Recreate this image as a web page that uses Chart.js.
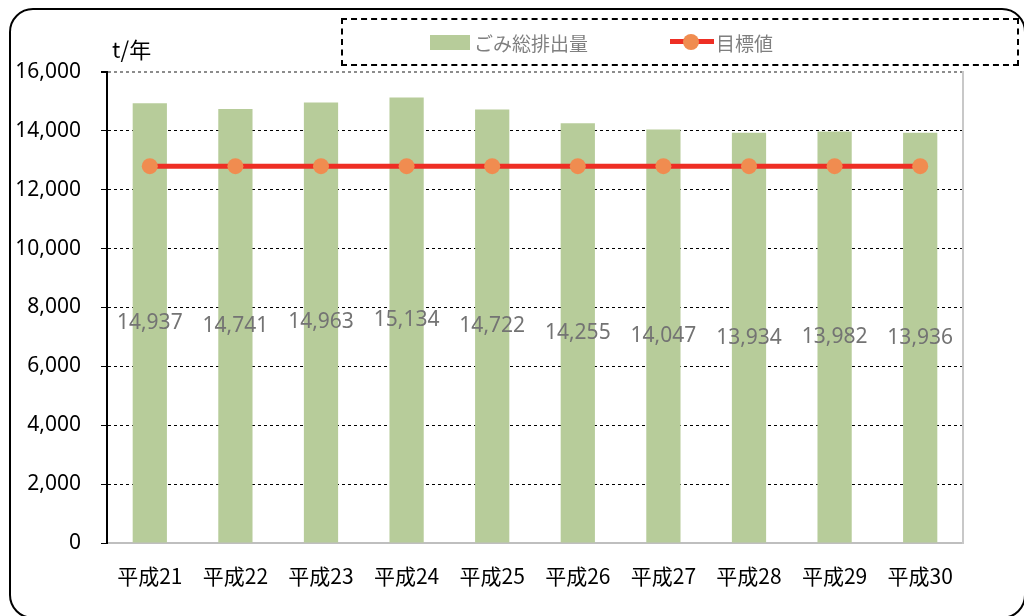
<!DOCTYPE html>
<html lang="ja">
<head>
<meta charset="utf-8">
<title>ごみ総排出量</title>
<script src="https://cdn.jsdelivr.net/npm/chart.js@4"></script>
<style>
    html, body { margin: 0; padding: 0; width: 1024px; height: 616px; overflow: hidden; background: #fff; }
    #wrap { position: relative; width: 1024px; height: 616px; overflow: hidden; }
    #frame {
        position: absolute; left: 9px; top: 8px; width: 1017px; height: 611px;
        border: 2px solid #000; border-radius: 24px; box-sizing: border-box;
    }
    #chartCanvas { position: absolute; left: 0; top: 0; }
    #unit {
        position: absolute; left: 112px; top: 32px;
        font: 22px "Noto Sans CJK JP", "Noto Sans", sans-serif; color: #000;
    }
    #legend {
        position: absolute; left: 341px; top: 18px; width: 678px; height: 48px;
        border: 2px dashed #000; box-sizing: border-box;
        font: 19px "Noto Sans CJK JP", sans-serif; color: #7f7f7f;
    }
    .item { position: absolute; top: 7px; display: flex; align-items: center; height: 30px; }
    .swatch { width: 40px; height: 15px; background: #b7cc9a; margin-right: 4px; }
    .lineIcon { position: relative; width: 44px; height: 20px; margin-right: 2px; }
    .lineIcon .bar { position: absolute; left: 0; top: 7px; width: 44px; height: 5px; background: #ee2e24; }
    .lineIcon .dot { position: absolute; left: 13px; top: 2px; width: 16px; height: 16px; border-radius: 50%; background: #f08c50; }
</style>
</head>
<body>
<div id="wrap">
    <canvas id="chartCanvas" width="1024" height="616"></canvas>
    <div id="frame"></div>
    <div id="unit">t/年</div>
    <div id="legend">
        <div class="item" style="left:87px"><span class="swatch"></span>ごみ総排出量</div>
        <div class="item" style="left:327px"><span class="lineIcon"><span class="bar"></span><span class="dot"></span></span>目標値</div>
    </div>
</div>
<script>
// data
const categories = ['平成21', '平成22', '平成23', '平成24', '平成25', '平成26', '平成27', '平成28', '平成29', '平成30'];
const totalWaste = [14937, 14741, 14963, 15134, 14722, 14255, 14047, 13934, 13982, 13936];
const targetValue = [12800, 12800, 12800, 12800, 12800, 12800, 12800, 12800, 12800, 12800];
const yTicks = [0, 2000, 4000, 6000, 8000, 10000, 12000, 14000, 16000];

// value labels in the middle of each bar
const barLabels = {
    id: 'barLabels',
    afterDatasetsDraw(chart) {
        const ctx = chart.ctx;
        const meta = chart.getDatasetMeta(1);
        ctx.save();
        ctx.font = '21px "Noto Sans", sans-serif';
        ctx.fillStyle = '#737373';
        ctx.textAlign = 'center';
        ctx.textBaseline = 'middle';
        meta.data.forEach(function(bar, i) {
            const mid = (bar.y + bar.base) / 2;
            ctx.fillText(totalWaste[i].toLocaleString('en-US'), bar.x, mid);
        });
        ctx.restore();
    }
};

const chartEl = document.getElementById('chartCanvas');
new Chart(chartEl, {
    data: {
        labels: categories,
        datasets: [{
            type: 'line',
            label: '目標値',
            data: targetValue,
            borderColor: '#ee2e24',
            borderWidth: 5,
            pointRadius: 8,
            pointBackgroundColor: '#f08c50',
            pointBorderWidth: 0,
            order: 0
        }, {
            type: 'bar',
            label: 'ごみ総排出量',
            data: totalWaste,
            backgroundColor: '#b7cc9a',
            barPercentage: 0.8,
            categoryPercentage: 0.5,
            order: 1
        }]
    },
    options: {
        responsive: false,
        animation: false,
        layout: { padding: { left: 0, right: 61, top: 72, bottom: 0 } },
        plugins: {
            legend: { display: false },
            tooltip: { enabled: false }
        },
        scales: {
            x: {
                grid: { display: false },
                border: { color: '#bfbfbf', width: 2 },
                ticks: {
                    color: '#000',
                    font: { family: '"Noto Sans CJK JP", sans-serif', size: 21 },
                    padding: 12,
                    maxRotation: 0
                },
                afterFit: function(scale) { scale.height = 73; }
            },
            y: {
                min: 0,
                max: 16000,
                afterBuildTicks: function(scale) {
                    scale.ticks = yTicks.map(v => ({ value: v }));
                },
                ticks: {
                    color: '#000',
                    font: { family: '"Noto Sans", sans-serif', size: 21 },
                    padding: 20,
                    callback: v => v.toLocaleString('en-US')
                },
                grid: {
                    color: ctx => ctx.tick && ctx.tick.value === 16000 ? '#8c8c8c' : (ctx.tick && ctx.tick.value === 0 ? 'rgba(0,0,0,0)' : '#000'),
                    lineWidth: ctx => ctx.tick && ctx.tick.value === 16000 ? 2 : 1,
                    tickLength: 6,
                    tickColor: '#000'
                },
                border: { color: '#000', width: 2, dash: [3, 3] },
                afterFit: function(scale) { scale.width = 107; }
            },
            yRight: {
                position: 'right',
                min: 0,
                max: 16000,
                ticks: { display: false },
                grid: { display: false },
                border: { color: '#c8c8c8', width: 2 },
                afterFit: function(scale) { scale.width = 0; }
            }
        }
    },
    plugins: [barLabels]
});
</script>
</body>
</html>
